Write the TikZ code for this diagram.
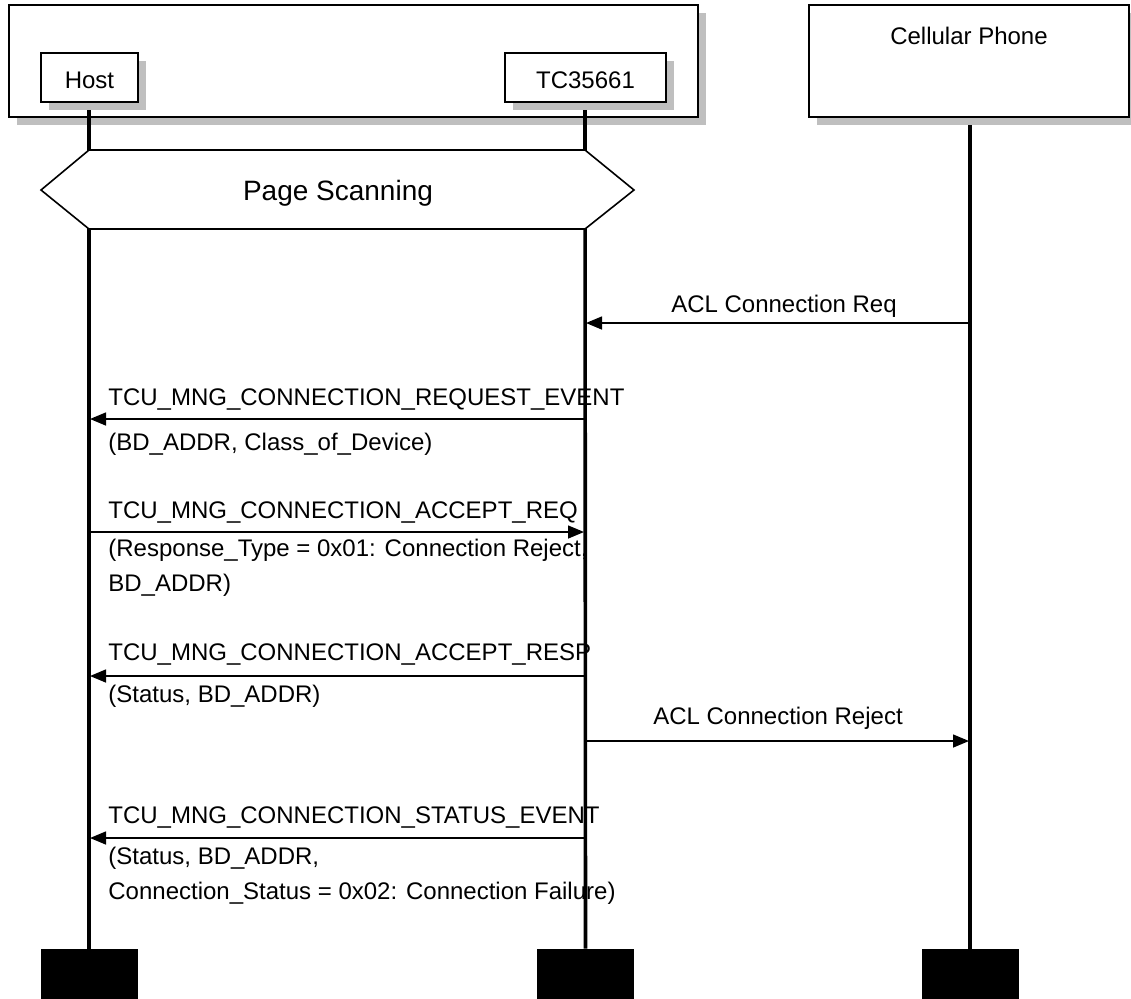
\documentclass[tikz,border=0pt]{standalone}
\usepackage{fontspec}
\setmainfont{Liberation Sans}
\usetikzlibrary{arrows.meta,shadows}
\begin{document}
\begin{tikzpicture}[x=0.5pt,y=-0.5pt,
  lbl/.style={inner sep=0pt, font=\fontsize{12}{14}\selectfont},
  frame/.style={draw=black, line width=0.8pt, fill=white, inner sep=0pt, outer sep=0pt,
    drop shadow={shadow xshift=4pt, shadow yshift=-4pt, fill=black!25, opacity=1}},
  life/.style={line width=1.8pt},
  msg/.style={line width=0.75pt, -{Triangle[length=8pt,width=6.5pt]}},
  endbox/.style={fill=black, draw=none, inner sep=0pt, outer sep=0pt, minimum width=48.5pt, minimum height=25pt},
]
\useasboundingbox (0,0) rectangle (1131,998);
% outer frame
\node[frame, minimum width=344.5pt, minimum height=56pt] (sys) at (353.5,61) {};
% end boxes
\node[endbox] (hostend) at (89,973.5) {};
\node[endbox] (tcend) at (585.5,973.5) {};
\node[endbox] (phoneend) at (970,973.5) {};
% heads
\node[frame, minimum width=48.5pt, minimum height=24.5pt] (host) at (89.5,77.5) {};
\node[frame, minimum width=80.5pt, minimum height=24.5pt] (tc) at (585.5,77.5) {};
% lifelines
\draw[life] (89,102) -- (hostend.north);
\draw[life] (585,102) -- (tcend.north);
\draw[life] (970,117) -- (phoneend.north);
\node[frame, minimum width=48.5pt, minimum height=24.5pt] (host) at (89.5,77.5) {};
\node[frame, minimum width=80.5pt, minimum height=24.5pt] (tc) at (585.5,77.5) {};
\node[lbl] (hostlbl) at (89.5,80) {Host};
\node[lbl] (tclbl) at (585.5,80) {TC35661};
\node[frame, minimum width=160pt, minimum height=56pt] (phone) at (969,61) {};
\node[lbl] (phonelbl) at (969,36) {Cellular Phone};
% page scanning
\draw[line width=0.8pt, fill=white] (41,190) -- (89,150) -- (585,150) -- (634,190) -- (585,229) -- (89,229) -- cycle;
\node[inner sep=0pt, font=\fontsize{14}{16}\selectfont] (scan) at (338,193) {Page Scanning};
% message anchors
\coordinate (p1) at (970,323); \coordinate (t1) at (586,323);
\coordinate (t2) at (585,419); \coordinate (h2) at (90,419);
\coordinate (h3) at (89,532); \coordinate (t3) at (584,532);
\coordinate (t4) at (585,676); \coordinate (h4) at (90,676);
\coordinate (t5) at (585,741); \coordinate (p5) at (969,741);
\coordinate (t6) at (585,838); \coordinate (h6) at (90,838);
\draw[msg] (p1) -- (t1);
\draw[msg] (t2) -- (h2);
\draw[msg] (h3) -- (t3);
\draw[msg] (t4) -- (h4);
\draw[msg] (t5) -- (p5);
\draw[msg] (t6) -- (h6);
% labels
\node[lbl] (l1) at (784,306) {ACL Connection Req};
\node[lbl, anchor=west] (l2) at (108,399) {TCU\_MNG\_CONNECTION\_REQUEST\_EVENT};
\node[lbl, anchor=west] (l2b) at (108,444) {(BD\_ADDR, Class\_of\_Device)};
\node[lbl, anchor=west] (l3) at (108,512) {TCU\_MNG\_CONNECTION\_ACCEPT\_REQ};
\node[lbl, anchor=west] (l3b) at (108,550) {(Response\_Type = 0x01: Connection Reject,};
\node[lbl, anchor=west] (l3c) at (108,585) {BD\_ADDR)};
\node[lbl, anchor=west] (l4) at (108,654) {TCU\_MNG\_CONNECTION\_ACCEPT\_RESP};
\node[lbl, anchor=west] (l4b) at (108,696) {(Status, BD\_ADDR)};
\node[lbl] (l5) at (778,718) {ACL Connection Reject};
\node[lbl, anchor=west] (l6) at (108,817) {TCU\_MNG\_CONNECTION\_STATUS\_EVENT};
\node[lbl, anchor=west] (l6b) at (108,858) {(Status, BD\_ADDR,};
\node[lbl, anchor=west] (l6c) at (108,893) {Connection\_Status = 0x02: Connection Failure)};
\end{tikzpicture}
\end{document}
